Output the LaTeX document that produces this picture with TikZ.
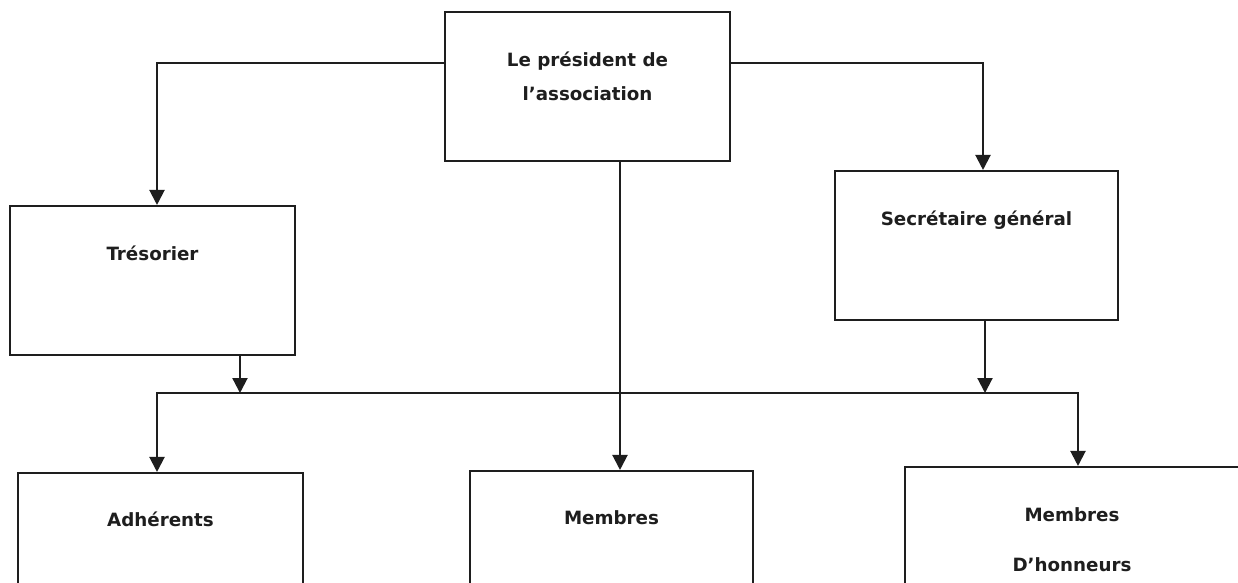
\documentclass[tikz,border=0pt]{standalone}
\usepackage{fontspec}
\setmainfont{DejaVu Sans}
\usepackage{tikz}
\usetikzlibrary{positioning}
\usetikzlibrary{arrows.meta}
\usepackage{xcolor}
\definecolor{ink}{HTML}{1E1E1E}

\begin{document}
\begin{tikzpicture}[x=0.02cm, y=-0.02cm,
    box/.style={draw=ink, line width=1.2pt, rectangle, inner sep=0pt, minimum width=5.7cm, minimum height=2.98cm},
    lbl/.style={anchor=base, inner sep=0pt, text=ink, font=\bfseries\fontsize{10.4}{12}\selectfont},
    arr/.style={-{Triangle[width=0.3cm,length=0.3cm]}, draw=ink, line width=1.2pt}]
  \useasboundingbox (0,0) rectangle (1238,582);
  \fill[white] (0,0) rectangle (1238,582);
  \clip (0,0) rectangle (1238,582);

  % boxes
  \node (pres) [box] at (587.5,86.5) {};
  \node (tres) [box] at (152.5,280.5) {};
  \node (secr) [box, minimum width=5.66cm] at (976.5,245.5) {};
  \node (adh) [box] at (160.5,547.5) {};
  \node (memb) [box, minimum width=5.66cm] at (611.5,545.5) {};
  \node (honn) [box, minimum width=6.68cm] at (1072,541.5) {};

  % labels
  \node (pres-t1) [lbl] at ([yshift=-1.12cm]pres.north) {Le président de};
  \node (pres-t2) [lbl, below=0.68cm of pres-t1.base, anchor=base] {l’association};
  \node (tres-t) [lbl] at ([yshift=-1.12cm]tres.north) {Trésorier};
  \node (secr-t) [lbl] at ([yshift=-1.12cm]secr.north) {Secrétaire général};
  \node (adh-t) [lbl] at ([yshift=-1.1cm]adh.north) {Adhérents};
  \node (memb-t) [lbl] at ([yshift=-1.1cm]memb.north) {Membres};
  \node (honn-t1) [lbl] at ([yshift=-1.12cm]honn.north) {Membres};
  \node (honn-t2) [lbl, below=1cm of honn-t1.base, anchor=base] {D’honneurs};

  % connectors
  \coordinate (busL) at (157,393);
  \coordinate (busR) at (1078,393);
  \draw[arr] ([yshift=0.47cm]pres.west) -| ([xshift=0.09cm]tres.north);
  \draw[arr] ([yshift=0.47cm]pres.east) -| ([xshift=0.13cm]secr.north);
  \draw[arr] ([xshift=0.65cm]pres.south) -- ([xshift=0.65cm]pres.south |- memb.north);
  \draw[arr] ([xshift=1.75cm]tres.south) -- ([xshift=1.75cm]tres.south |- busL);
  \draw[arr] ([xshift=0.17cm]secr.south) -- ([xshift=0.17cm]secr.south |- busR);
  \draw[arr] (busR) -- (busL) -- (busL |- adh.north);
  \draw[arr] (busL) -- (busR) -- (busR |- honn.north);
\end{tikzpicture}
\end{document}
